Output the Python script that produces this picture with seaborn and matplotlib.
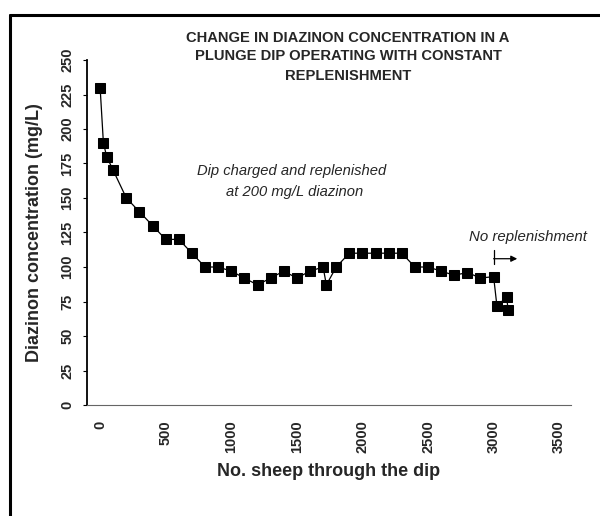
import matplotlib
matplotlib.use("Agg")
import matplotlib.pyplot as plt
from matplotlib.lines import Line2D
import seaborn as sns
import pandas as pd

sheep = [0, 25, 50, 100, 200, 300, 400, 500, 600, 700, 800, 900, 1000, 1100,
         1200, 1300, 1400, 1500, 1600, 1700, 1725, 1800, 1900, 2000, 2100,
         2200, 2300, 2400, 2500, 2600, 2700, 2800, 2900, 3000, 3025, 3100, 3110]
diazinon = [230, 190, 180, 170, 150, 140, 130, 120, 120, 110, 100, 100, 97, 92,
            87, 92, 97, 92, 97, 100, 87, 100, 110, 110, 110, 110, 110, 100, 100,
            97, 94, 96, 92, 93, 72, 78, 69]
x_ticks = [0, 500, 1000, 1500, 2000, 2500, 3000, 3500]
y_ticks = [0, 25, 50, 75, 100, 125, 150, 175, 200, 225, 250]

title_lines = ["CHANGE IN DIAZINON CONCENTRATION IN A",
               "PLUNGE DIP OPERATING WITH CONSTANT",
               "REPLENISHMENT"]

df = pd.DataFrame({"sheep": sheep, "diazinon": diazinon})

sns.set_theme(style="white")
plt.rcParams["font.family"] = ["Liberation Sans", "DejaVu Sans"]

W, H = 600, 516
fig = plt.figure(figsize=(6, 5.16), dpi=100)
ax = fig.add_axes([87 / W, 1 - 405 / H, (571 - 87) / W, (405 - 60) / H])

sns.lineplot(data=df, x="sheep", y="diazinon", ax=ax, color="black",
             marker="s", markersize=7.5, markeredgecolor="black",
             markerfacecolor="black", linewidth=0.9, estimator=None, sort=False)

ax.set_xlim(-100, 3590)
ax.set_ylim(0, 250)
ax.set_xticks(x_ticks)
ax.set_yticks(y_ticks)
ax.set_xticklabels([str(t) for t in x_ticks], rotation=90, fontweight="bold", fontsize=10.5)
ax.set_yticklabels([str(t) for t in y_ticks], rotation=90, fontweight="bold", fontsize=10.5,
                   va="center")
ax.tick_params(axis="x", length=0, pad=11)
ax.tick_params(axis="y", length=3, width=0.8, color="black", pad=6, left=True, direction="out")

for s in ["top", "right"]:
    ax.spines[s].set_visible(False)
ax.spines["left"].set_color("black")
ax.spines["left"].set_linewidth(1.3)
ax.spines["bottom"].set_color("#666666")
ax.spines["bottom"].set_linewidth(0.8)

ax.set_xlabel("No. sheep through the dip", fontweight="bold", fontsize=13)
ax.xaxis.set_label_coords(0.5, (405 - 471) / 345)
ax.xaxis.label.set_va("center")
ax.set_ylabel("Diazinon concentration (mg/L)", fontweight="bold", fontsize=13)
ax.yaxis.set_label_coords((35 - 87) / 484, 0.5)
ax.yaxis.label.set_va("center")

for line, ypx in zip(title_lines, [38, 56, 76]):
    fig.text(348 / W, 1 - ypx / H, line, ha="center", va="center",
             fontweight="bold", fontsize=10.6)

ax.text(1460, 169.5, "Dip charged and replenished", ha="center", va="center",
        fontstyle="italic", fontsize=10.6)
ax.text(1480, 154, "at 200 mg/L diazinon", ha="center", va="center",
        fontstyle="italic", fontsize=10.6)
ax.text(3264, 122, "No replenishment", ha="center", va="center",
        fontstyle="italic", fontsize=10.8)
ax.plot([3000, 3000], [102, 112], color="black", lw=0.9)
ax.annotate("", xy=(3180, 106), xytext=(3000, 106),
            arrowprops=dict(arrowstyle="-|>", color="black", lw=0.9,
                            mutation_scale=9, shrinkA=0, shrinkB=0))

fig.add_artist(Line2D([10 / W, 1.0], [1 - 15 / H, 1 - 15 / H], color="black", lw=2.2))
fig.add_artist(Line2D([10 / W, 10 / W], [0, 1 - 15 / H], color="black", lw=2.2))

fig.savefig("out.png", dpi=100)
